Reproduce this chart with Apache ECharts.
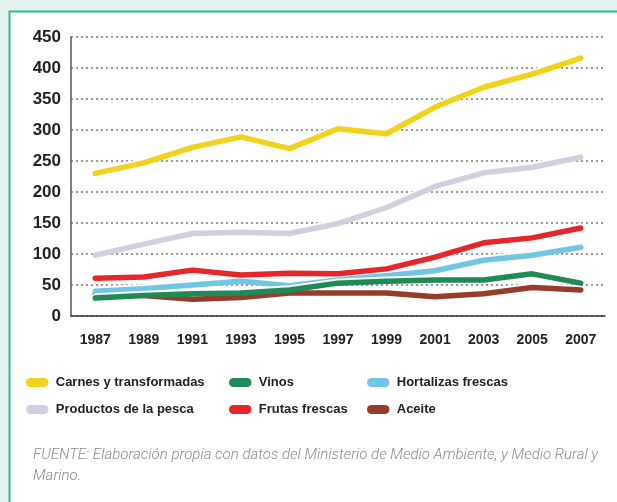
<!DOCTYPE html>
<html><head><meta charset="utf-8">
<script src="https://cdn.jsdelivr.net/npm/echarts@6/dist/echarts.min.js"></script>
<style>html,body{margin:0;padding:0;background:#e3f3ee;}#c{width:617px;height:502px;}</style>
</head><body><div id="c"></div>
<script>
const years = ['1987','1989','1991','1993','1995','1997','1999','2001','2003','2005','2007'];
const carnes = [230, 247, 272, 289, 270, 302, 294, 337, 369, 390, 416];
const pesca = [98, 116, 133, 135, 133, 149, 175, 209, 231, 240, 256];
const frutas = [61, 63, 74, 66, 69, 68, 76, 95, 118, 126, 142];
const hortalizas = [40, 44, 50, 56, 49, 58, 65, 73, 90, 98, 111];
const vinos = [29, 33, 36, 37, 42, 53, 56, 58, 58, 68, 53];
const aceite = [35, 33, 27, 30, 37, 37, 37, 31, 36, 46, 42];
const yTicks = [0, 50, 100, 150, 200, 250, 300, 350, 400, 450];

const names = ['Carnes y transformadas','Productos de la pesca','Vinos','Frutas frescas','Hortalizas frescas','Aceite'];
const colors = ['#f2d31b','#d2d0e0','#1f8a55','#e5272b','#71c6e4','#953c2c'];
const datas = [carnes, pesca, vinos, frutas, hortalizas, aceite];
const zOrder = [6, 5, 3, 4, 2, 1];

const chart = echarts.init(document.getElementById('c'));
const series = names.map((n, i) => ({
  name: n, type: 'line', data: datas[i], symbol: 'none', z: zOrder[i],
  lineStyle: { color: colors[i], width: 5.5, cap: 'round', join: 'round',
    shadowColor: 'rgba(255,255,255,0.9)', shadowBlur: 0, shadowOffsetY: -2 },
  itemStyle: { color: colors[i] }
}));
const pill = 'path://M5,0 L20,0 A5,5 0 0 1 20,10 L5,10 A5,5 0 0 1 5,0 Z';
const legendBase = {
  orient: 'vertical', itemWidth: 25, itemHeight: 9, itemGap: 14, icon: pill,
  textStyle: { fontFamily: 'Liberation Sans', fontWeight: 'bold', fontSize: 13, color: '#222', padding: [0,0,0,1] },
  top: 371
};
chart.setOption({
  animation: false,
  backgroundColor: '#e3f3ee',
  graphic: [
    { type: 'rect', shape: { x: 9.5, y: 11.5, width: 640, height: 520 }, style: { fill: '#fff', stroke: '#29bf95', lineWidth: 2 }, z: -10 },
    { type: 'text', left: 33, top: 445, style: { text: 'FUENTE: Elaboración propia con datos del Ministerio de Medio Ambiente, y Medio Rural y\nMarino.', font: 'italic 300 15px Roboto', fill: '#8a8a8a', lineHeight: 21 } }
  ],
  grid: { left: 71, right: 12, top: 37, bottom: 186, containLabel: false },
  legend: [
    Object.assign({}, legendBase, { left: 21, data: [names[0], names[1]] }),
    Object.assign({}, legendBase, { left: 224, data: [names[2], names[3]] }),
    Object.assign({}, legendBase, { left: 362, data: [names[4], names[5]] })
  ],
  xAxis: {
    type: 'category', data: years, boundaryGap: true,
    axisLine: { lineStyle: { color: '#333', width: 1.5 } },
    axisTick: { show: false },
    axisLabel: { margin: 17, fontFamily: 'Liberation Sans', fontWeight: 'bold', fontSize: 14, color: '#222' }
  },
  yAxis: {
    type: 'value', min: 0, max: 450, interval: 50,
    axisLine: { show: true, lineStyle: { color: '#555', width: 1.5 } },
    axisTick: { show: false },
    axisLabel: { margin: 10, fontFamily: 'Liberation Sans', fontWeight: 'bold', fontSize: 17, color: '#222',
      formatter: v => yTicks.includes(v) ? String(v) : '' },
    splitLine: { show: true, lineStyle: { color: '#999', width: 2, type: [2, 3] } }
  },
  series: series
});
</script></body></html>
